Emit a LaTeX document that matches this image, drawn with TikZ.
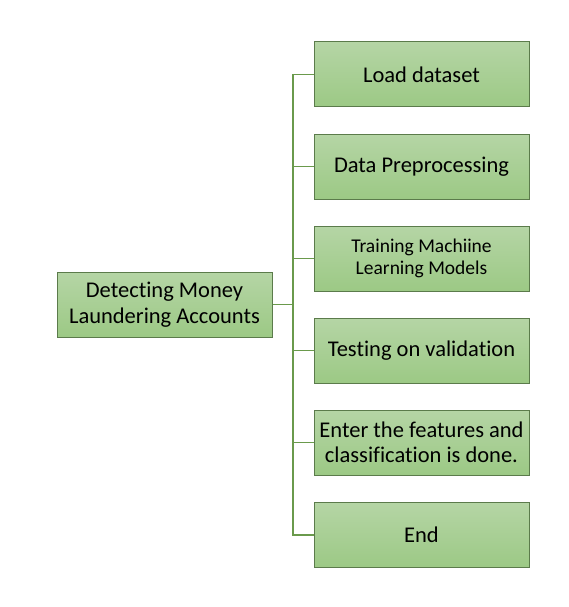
\documentclass[tikz,border=0pt]{standalone}
\usepackage{fontspec}
\setmainfont[Ligatures=NoCommon]{Carlito}
\usepackage{tikz}
\usetikzlibrary{arrows.meta,positioning,calc}

\definecolor{boxtop}{HTML}{B5D5A5}
\definecolor{boxbot}{HTML}{9CC985}
\definecolor{boxline}{HTML}{5B7B4B}
\definecolor{linkgreen}{HTML}{6A9A4C}

\begin{document}
\begin{tikzpicture}[x=1pt,y=-1pt,
  task/.style={rectangle,draw=boxline,line width=1pt,top color=boxtop,bottom color=boxbot,
    minimum width=215pt,minimum height=65pt,inner sep=2pt,align=center,font=\fontsize{22.5}{25.5}\selectfont},
  link/.style={linkgreen,line width=1.2pt}
]
\useasboundingbox (0,0) rectangle (568,607);
\node[task] (root) at (164.5,304.5) {Detecting Money\\Laundering Accounts};
\node[task] (load) at (421.5,74.5) {Load dataset};
\node[task] (prep) at (421.5,166.5) {Data Preprocessing};
\node[task,font=\fontsize{19.5}{22}\selectfont] (train) at (421.5,258.5) {Training Machiine\\Learning Models};
\node[task] (test) at (421.5,350.5) {Testing on validation};
\node[task] (feat) at (421.5,442.5) {Enter the features and\\classification is done.};
\node[task] (done) at (421.5,535) {End};
\coordinate (bus) at (293,304.5);
\draw[link] (root) -- (bus);
\foreach \k in {load,prep,train,test,feat,done}
  \draw[link] (bus) |- (\k);
\end{tikzpicture}
\end{document}
